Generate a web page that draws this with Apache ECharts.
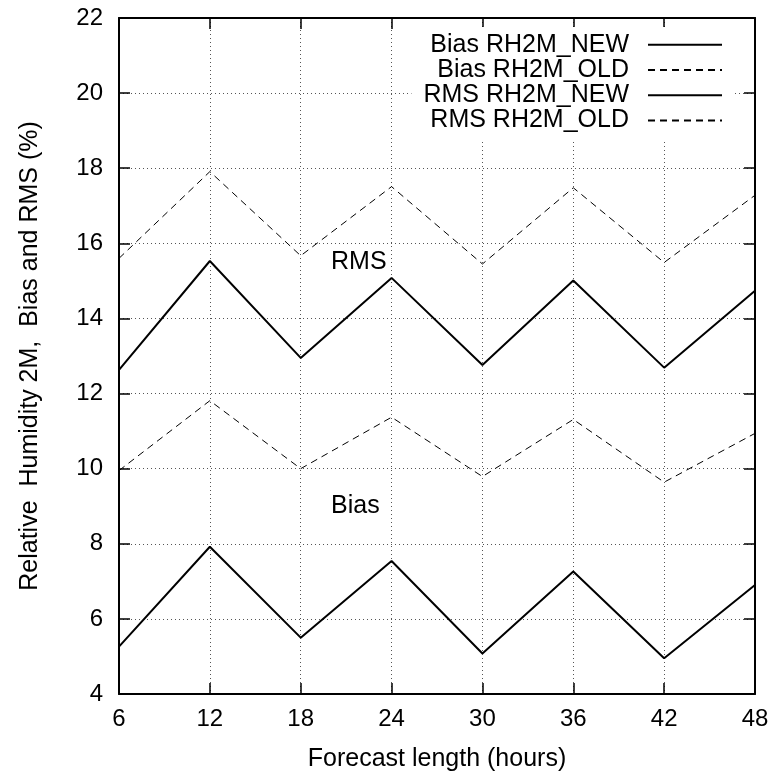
<!DOCTYPE html>
<html>
<head>
<meta charset="utf-8">
<script src="https://cdn.jsdelivr.net/npm/echarts@6/dist/echarts.min.js"></script>
<style>
html,body{margin:0;padding:0;background:#fff;}
#chart{width:773px;height:778px;}
</style>
</head>
<body>
<div id="chart"></div>
<script>
// ---- data ----
var hours = [6, 12, 18, 24, 30, 36, 42, 48];
var biasNew = [5.26, 7.92, 5.50, 7.54, 5.08, 7.26, 4.95, 6.90];
var biasOld = [9.95, 11.81, 10.00, 11.37, 9.79, 11.31, 9.64, 10.94];
var rmsNew = [12.63, 15.53, 12.95, 15.08, 12.76, 15.01, 12.69, 14.74];
var rmsOld = [15.60, 17.91, 15.67, 17.51, 15.45, 17.48, 15.49, 17.28];
var seriesNames = ['Bias RH2M_NEW', 'Bias RH2M_OLD', 'RMS RH2M_NEW', 'RMS RH2M_OLD'];
var annotations = [[20, 15.5, 'RMS'], [20, 9.0, 'Bias']];
var xTitle = 'Forecast length (hours)';
var yTitle = 'Relative  Humidity 2M,  Bias and RMS (%)';

var FONT = "'Liberation Sans', Arial, sans-serif";

function pairs(vals) {
  return hours.map(function (h, i) { return [h, vals[i]]; });
}

var solid = { color: '#000', width: 2, type: 'solid' };
var dashed = { color: '#000', width: 1, type: [7, 5] };

function lineSeries(name, vals, style) {
  return {
    name: name,
    type: 'line',
    data: pairs(vals),
    symbol: 'none',
    showSymbol: false,
    lineStyle: style,
    itemStyle: { color: '#000' },
    z: 3,
    animation: false
  };
}

var chart = echarts.init(document.getElementById('chart'), null, { renderer: 'canvas' });

var axisCommonX = {
  type: 'value', min: 6, max: 48, interval: 6
};
var axisCommonY = {
  type: 'value', min: 4, max: 22, interval: 2
};

chart.setOption({
  animation: false,
  backgroundColor: '#fff',
  textStyle: { fontFamily: FONT },
  grid: { left: 119, right: 18, top: 18, bottom: 84, containLabel: false },
  legend: {
    data: seriesNames,
    orient: 'vertical',
    right: 38,
    top: 27,
    align: 'right',
    itemWidth: 74,
    itemHeight: 10,
    itemGap: 0,
    padding: [5, 12, 6, 12],
    backgroundColor: '#fff',
    selectedMode: false,
    itemStyle: { color: 'rgba(0,0,0,0)', borderColor: 'rgba(0,0,0,0)', borderWidth: 0, opacity: 0 },
    textStyle: { fontFamily: FONT, fontSize: 25, color: '#000', lineHeight: 25.3, padding: [0, 14, 0, 0] },
    z: 10
  },
  xAxis: [
    Object.assign({}, axisCommonX, {
      position: 'bottom',
      name: xTitle,
      nameLocation: 'middle',
      nameGap: 53,
      nameTextStyle: { fontFamily: FONT, fontSize: 25, color: '#000' },
      axisLine: { show: true, onZero: false, lineStyle: { color: '#000', width: 2 } },
      axisTick: { show: true, inside: true, length: 11, lineStyle: { color: '#000', width: 1.5 } },
      axisLabel: { fontFamily: FONT, fontSize: 24, color: '#000', margin: 13 },
      splitLine: { show: true, lineStyle: { color: '#555', width: 1, type: [1, 3] } }
    }),
    Object.assign({}, axisCommonX, {
      position: 'top',
      axisLine: { show: true, onZero: false, lineStyle: { color: '#000', width: 2 } },
      axisTick: { show: true, inside: true, length: 11, lineStyle: { color: '#000', width: 1.5 } },
      axisLabel: { show: false },
      splitLine: { show: false }
    })
  ],
  yAxis: [
    Object.assign({}, axisCommonY, {
      position: 'left',
      name: yTitle,
      nameLocation: 'middle',
      nameGap: 76,
      nameTextStyle: { fontFamily: FONT, fontSize: 25, color: '#000' },
      axisLine: { show: true, onZero: false, lineStyle: { color: '#000', width: 2 } },
      axisTick: { show: true, inside: true, length: 11, lineStyle: { color: '#000', width: 1.5 } },
      axisLabel: { fontFamily: FONT, fontSize: 24, color: '#000', margin: 16 },
      splitLine: { show: true, lineStyle: { color: '#555', width: 1, type: [1, 3] } }
    }),
    Object.assign({}, axisCommonY, {
      position: 'right',
      axisLine: { show: true, onZero: false, lineStyle: { color: '#000', width: 2 } },
      axisTick: { show: true, inside: true, length: 11, lineStyle: { color: '#000', width: 1.5 } },
      axisLabel: { show: false },
      splitLine: { show: false }
    })
  ],
  series: [
    lineSeries(seriesNames[0], biasNew, solid),
    lineSeries(seriesNames[1], biasOld, dashed),
    lineSeries(seriesNames[2], rmsNew, solid),
    lineSeries(seriesNames[3], rmsOld, dashed),
    {
      name: 'annotations',
      type: 'scatter',
      data: annotations,
      symbolSize: 0,
      silent: true,
      z: 4,
      itemStyle: { color: '#000', opacity: 1 },
      label: {
        show: true,
        position: 'right',
        distance: 0,
        opacity: 1,
        formatter: function (p) { return p.data[2]; },
        fontFamily: FONT,
        fontSize: 25,
        color: '#000'
      }
    }
  ]
});
</script>
</body>
</html>
